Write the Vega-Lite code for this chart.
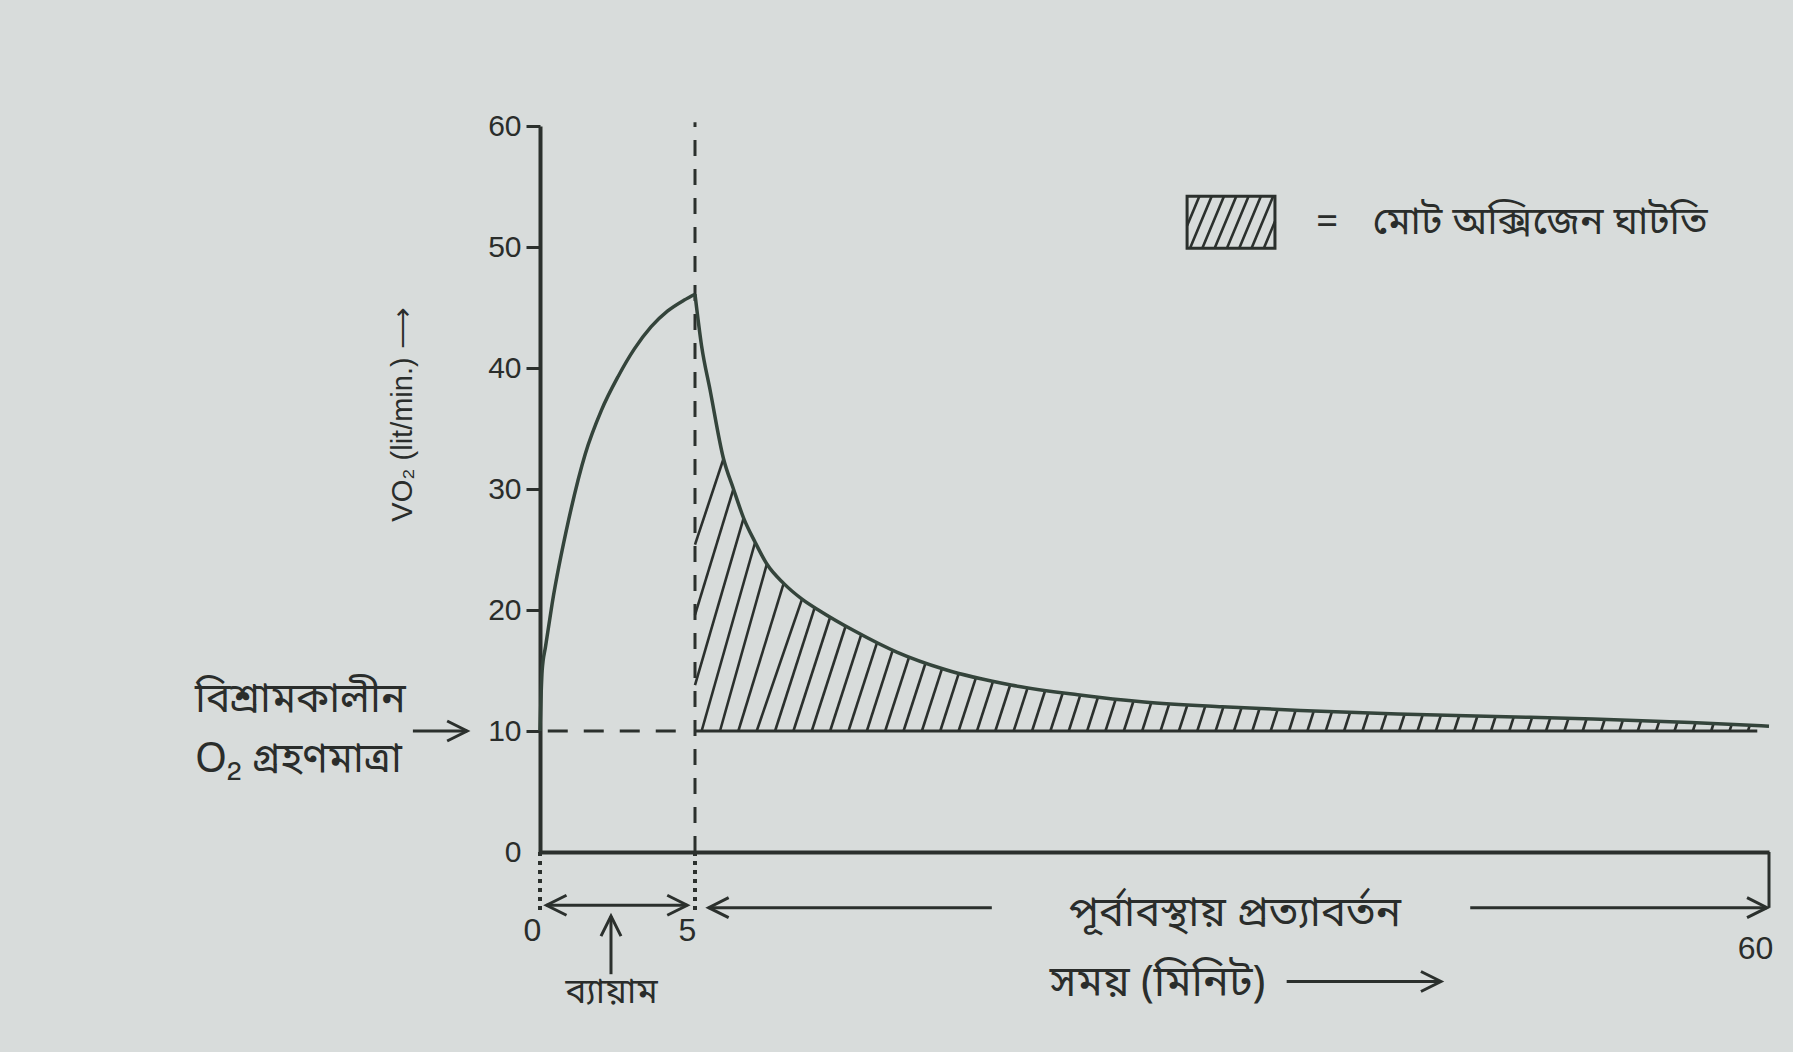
{
  "$schema": "https://vega.github.io/schema/vega-lite/v6.json",
  "width": 1229,
  "height": 726,
  "autosize": "none",
  "padding": {"left": 540, "top": 126, "right": 24, "bottom": 200},
  "background": "#d8dcdb",
  "config": {"view": {"stroke": null}, "font": "Liberation Sans"},
  "datasets": {
    "curve": [
      {"seg": "rise", "t": 0, "v": 10},
      {"seg": "rise", "t": 0.07, "v": 15.0},
      {"seg": "rise", "t": 0.18, "v": 17.0},
      {"seg": "rise", "t": 0.39, "v": 20.5},
      {"seg": "rise", "t": 0.92, "v": 27.4},
      {"seg": "rise", "t": 1.46, "v": 32.9},
      {"seg": "rise", "t": 1.98, "v": 36.5},
      {"seg": "rise", "t": 2.52, "v": 39.3},
      {"seg": "rise", "t": 3.05, "v": 41.6},
      {"seg": "rise", "t": 3.58, "v": 43.4},
      {"seg": "rise", "t": 4.11, "v": 44.7},
      {"seg": "rise", "t": 4.64, "v": 45.6},
      {"seg": "rise", "t": 5, "v": 46.1},
      {"seg": "decay", "t": 5, "v": 46.1},
      {"seg": "decay", "t": 5.34, "v": 41.8},
      {"seg": "decay", "t": 5.77, "v": 38.2},
      {"seg": "decay", "t": 6.46, "v": 32.5},
      {"seg": "decay", "t": 6.97, "v": 30.0},
      {"seg": "decay", "t": 7.49, "v": 27.6},
      {"seg": "decay", "t": 8.08, "v": 25.6},
      {"seg": "decay", "t": 8.68, "v": 23.8},
      {"seg": "decay", "t": 9.54, "v": 22.2},
      {"seg": "decay", "t": 10.48, "v": 20.9},
      {"seg": "decay", "t": 11.42, "v": 19.9},
      {"seg": "decay", "t": 13.13, "v": 18.3},
      {"seg": "decay", "t": 15.36, "v": 16.5},
      {"seg": "decay", "t": 17.76, "v": 15.1},
      {"seg": "decay", "t": 21.18, "v": 13.8},
      {"seg": "decay", "t": 24.6, "v": 13.0},
      {"seg": "decay", "t": 28.0, "v": 12.4},
      {"seg": "decay", "t": 32.0, "v": 12.0},
      {"seg": "decay", "t": 36.0, "v": 11.7},
      {"seg": "decay", "t": 41.0, "v": 11.4},
      {"seg": "decay", "t": 46.0, "v": 11.2},
      {"seg": "decay", "t": 51.0, "v": 11.0},
      {"seg": "decay", "t": 56.0, "v": 10.7},
      {"seg": "decay", "t": 60.0, "v": 10.4}
    ],
    "hatch": [
      {"t": 5, "v": 25.4, "t2": 6.46, "v2": 32.5},
      {"t": 5, "v": 19.6, "t2": 6.97, "v2": 30.0},
      {"t": 5, "v": 13.8, "t2": 7.49, "v2": 27.6},
      {"t": 5.34, "v": 10, "t2": 8.08, "v2": 25.6},
      {"t": 6.28, "v": 10, "t2": 8.68, "v2": 23.8},
      {"t": 7.22, "v": 10, "t2": 9.54, "v2": 22.2},
      {"t": 8.16, "v": 10, "t2": 10.48, "v2": 20.9},
      {"t": 9.10, "v": 10, "t2": 11.13, "v2": 20.2},
      {"t": 10.04, "v": 10, "t2": 11.92, "v2": 19.4},
      {"t": 10.98, "v": 10, "t2": 12.72, "v2": 18.7},
      {"t": 11.92, "v": 10, "t2": 13.52, "v2": 18.0},
      {"t": 12.86, "v": 10, "t2": 14.33, "v2": 17.35},
      {"t": 13.80, "v": 10, "t2": 15.13, "v2": 16.7},
      {"t": 14.74, "v": 10, "t2": 15.97, "v2": 16.15},
      {"t": 15.68, "v": 10, "t2": 16.81, "v2": 15.64},
      {"t": 16.62, "v": 10, "t2": 17.65, "v2": 15.15},
      {"t": 17.56, "v": 10, "t2": 18.52, "v2": 14.82},
      {"t": 18.50, "v": 10, "t2": 19.40, "v2": 14.48},
      {"t": 19.44, "v": 10, "t2": 20.27, "v2": 14.15},
      {"t": 20.38, "v": 10, "t2": 21.14, "v2": 13.8},
      {"t": 21.32, "v": 10, "t2": 22.04, "v2": 13.6},
      {"t": 22.26, "v": 10, "t2": 22.94, "v2": 13.39},
      {"t": 23.20, "v": 10, "t2": 23.84, "v2": 13.18},
      {"t": 24.14, "v": 10, "t2": 24.73, "v2": 12.97},
      {"t": 25.08, "v": 10, "t2": 25.64, "v2": 12.81},
      {"t": 26.02, "v": 10, "t2": 26.55, "v2": 12.65},
      {"t": 26.96, "v": 10, "t2": 27.46, "v2": 12.5},
      {"t": 27.90, "v": 10, "t2": 28.37, "v2": 12.36},
      {"t": 28.84, "v": 10, "t2": 29.29, "v2": 12.27},
      {"t": 29.78, "v": 10, "t2": 30.22, "v2": 12.18},
      {"t": 30.72, "v": 10, "t2": 31.14, "v2": 12.09},
      {"t": 31.66, "v": 10, "t2": 32.06, "v2": 11.99},
      {"t": 32.60, "v": 10, "t2": 32.99, "v2": 11.93},
      {"t": 33.54, "v": 10, "t2": 33.91, "v2": 11.86},
      {"t": 34.48, "v": 10, "t2": 34.84, "v2": 11.79},
      {"t": 35.42, "v": 10, "t2": 35.76, "v2": 11.72},
      {"t": 36.36, "v": 10, "t2": 36.69, "v2": 11.66},
      {"t": 37.30, "v": 10, "t2": 37.62, "v2": 11.6},
      {"t": 38.24, "v": 10, "t2": 38.55, "v2": 11.55},
      {"t": 39.18, "v": 10, "t2": 39.48, "v2": 11.49},
      {"t": 40.12, "v": 10, "t2": 40.41, "v2": 11.43},
      {"t": 41.06, "v": 10, "t2": 41.34, "v2": 11.39},
      {"t": 42.00, "v": 10, "t2": 42.27, "v2": 11.35},
      {"t": 42.94, "v": 10, "t2": 43.20, "v2": 11.31},
      {"t": 43.88, "v": 10, "t2": 44.14, "v2": 11.28},
      {"t": 44.82, "v": 10, "t2": 45.07, "v2": 11.24},
      {"t": 45.76, "v": 10, "t2": 46.00, "v2": 11.2},
      {"t": 46.70, "v": 10, "t2": 46.93, "v2": 11.17},
      {"t": 47.64, "v": 10, "t2": 47.87, "v2": 11.13},
      {"t": 48.58, "v": 10, "t2": 48.80, "v2": 11.09},
      {"t": 49.52, "v": 10, "t2": 49.73, "v2": 11.05},
      {"t": 50.46, "v": 10, "t2": 50.66, "v2": 11.02},
      {"t": 51.40, "v": 10, "t2": 51.59, "v2": 10.97},
      {"t": 52.34, "v": 10, "t2": 52.52, "v2": 10.91},
      {"t": 53.28, "v": 10, "t2": 53.45, "v2": 10.85},
      {"t": 54.22, "v": 10, "t2": 54.38, "v2": 10.8},
      {"t": 55.16, "v": 10, "t2": 55.31, "v2": 10.74},
      {"t": 56.10, "v": 10, "t2": 56.24, "v2": 10.69},
      {"t": 57.04, "v": 10, "t2": 57.16, "v2": 10.62},
      {"t": 57.98, "v": 10, "t2": 58.09, "v2": 10.55},
      {"t": 58.92, "v": 10, "t2": 59.02, "v2": 10.48},
      {"t": 30.2, "v": 51.76, "t2": 30.83, "v2": 54.2},
      {"t": 30.35, "v": 49.9, "t2": 31.46, "v2": 54.2},
      {"t": 30.98, "v": 49.9, "t2": 32.09, "v2": 54.2},
      {"t": 31.61, "v": 49.9, "t2": 32.72, "v2": 54.2},
      {"t": 32.24, "v": 49.9, "t2": 33.35, "v2": 54.2},
      {"t": 32.87, "v": 49.9, "t2": 33.98, "v2": 54.2},
      {"t": 33.50, "v": 49.9, "t2": 34.61, "v2": 54.2},
      {"t": 34.13, "v": 49.9, "t2": 34.7, "v2": 52.11}
    ],
    "guides": [
      {"kind": "dashH", "t": 0.25, "v": 10, "t2": 4.85, "v2": 10},
      {"kind": "solid", "t": 5, "v": 10, "t2": 59.4, "v2": 10},
      {"kind": "dashV", "t": 5, "v": 0, "t2": 5, "v2": 60.3},
      {"kind": "dot", "t": 0, "v": 0, "t2": 0, "v2": -4.9},
      {"kind": "dot", "t": 5, "v": 0, "t2": 5, "v2": -4.9},
      {"kind": "solid", "t": 60, "v": 0, "t2": 60, "v2": -4.6},
      {"kind": "solid", "t": 0.21, "v": -4.4, "t2": 4.75, "v2": -4.4},
      {"kind": "solid", "t": 5.7, "v": -4.6, "t2": 20.2, "v2": -4.6},
      {"kind": "solid", "t": 44.7, "v": -4.6, "t2": 59.9, "v2": -4.6},
      {"kind": "solid", "t": 2.29, "v": -5.3, "t2": 2.29, "v2": -10.1},
      {"kind": "solid", "t": 35.3, "v": -10.7, "t2": 43.2, "v2": -10.7},
      {"kind": "solid", "t": -4.1, "v": 10, "t2": -2.35, "v2": 10}
    ],
    "heads": [
      {"dir": "L", "t": 0.21, "v": -4.4},
      {"dir": "R", "t": 4.75, "v": -4.4},
      {"dir": "L", "t": 5.7, "v": -4.6},
      {"dir": "R", "t": 59.9, "v": -4.6},
      {"dir": "U", "t": 2.29, "v": -5.3},
      {"dir": "R", "t": 43.2, "v": -10.7},
      {"dir": "R", "t": -2.35, "v": 10}
    ],
    "box": [
      {"t": 30.2, "t2": 34.7, "v": 49.9, "v2": 54.2}
    ],
    "texts": [
      {"role": "left", "label": "বিশ্রামকালীন", "t": -11.13, "v": 12.6},
      {"role": "left", "label": "O₂ গ্রহণমাত্রা", "t": -11.13, "v": 7.6},
      {"role": "legend", "label": "=", "t": 36.8, "v": 52.1},
      {"role": "legend", "label": "মোট অক্সিজেন ঘাটতি", "t": 39.7, "v": 52.1},
      {"role": "center", "label": "পূর্বাবস্থায় প্রত্যাবর্তন", "t": 32.65, "v": -5.0},
      {"role": "small", "label": "ব্যায়াম", "t": 2.31, "v": -11.6}
    ]
  },
  "encoding": {
    "x": {
      "field": "t",
      "type": "quantitative",
      "scale": {"type": "linear", "domain": [0, 5, 60], "range": [0, 155, 1229], "nice": false, "zero": false},
      "axis": {
        "values": [0, 5, 60],
        "title": "সময় (মিনিট)",
        "titleX": 617,
        "titleY": 130,
        "titleBaseline": "middle",
        "titleAlign": "center",
        "titleFontSize": 43,
        "titleFontWeight": "normal",
        "titleFont": "Noto Sans Bengali, Noto Serif Bengali, Lohit Bengali, FreeSans, sans-serif",
        "titleColor": "#2a2d2b",
        "ticks": false,
        "tickSize": 0,
        "labelPadding": {"condition": {"test": "datum.value === 60", "value": 96}, "value": 78},
        "labelOffset": {"condition": {"test": "datum.value === 60", "value": -14}, "value": -8},
        "labelBaseline": "middle",
        "labelFontSize": 32,
        "labelColor": "#2a2d2b",
        "labelFlush": false,
        "labelOverlap": false,
        "domainWidth": 4,
        "domainColor": "#2b302d",
        "grid": false
      }
    },
    "y": {
      "field": "v",
      "type": "quantitative",
      "scale": {"domain": [0, 60], "nice": false, "zero": false},
      "axis": {
        "values": [0, 10, 20, 30, 40, 50, 60],
        "title": "VO₂ (lit/min.) ⟶",
        "titleX": -138,
        "titleY": 288,
        "titleAngle": 270,
        "titleBaseline": "middle",
        "titleAlign": "center",
        "titleFontSize": 29,
        "titleFontWeight": "normal",
        "titleColor": "#2a2d2b",
        "tickSize": 14,
        "tickWidth": 3,
        "tickColor": {"condition": {"test": "datum.value === 0", "value": "transparent"}, "value": "#2b302d"},
        "labelPadding": 5,
        "labelFontSize": 30,
        "labelColor": "#2a2d2b",
        "labelFlush": false,
        "labelOverlap": false,
        "domainWidth": 4,
        "domainColor": "#2b302d",
        "grid": false
      }
    }
  },
  "layer": [
    {
      "data": {"name": "guides"},
      "transform": [{"filter": "datum.kind === 'dashH'"}],
      "mark": {"type": "rule", "stroke": "#2b302d", "strokeWidth": 3, "strokeDash": [20, 16]},
      "encoding": {"x2": {"field": "t2"}, "y2": {"field": "v2"}}
    },
    {
      "data": {"name": "guides"},
      "transform": [{"filter": "datum.kind === 'dashV'"}],
      "mark": {"type": "rule", "stroke": "#2b302d", "strokeWidth": 3, "strokeDash": [16, 13]},
      "encoding": {"x2": {"field": "t2"}, "y2": {"field": "v2"}}
    },
    {
      "data": {"name": "guides"},
      "transform": [{"filter": "datum.kind === 'dot'"}],
      "mark": {"type": "rule", "stroke": "#2b302d", "strokeWidth": 4, "strokeDash": [4, 5]},
      "encoding": {"x2": {"field": "t2"}, "y2": {"field": "v2"}}
    },
    {
      "data": {"name": "guides"},
      "transform": [{"filter": "datum.kind === 'solid'"}],
      "mark": {"type": "rule", "stroke": "#2b302d", "strokeWidth": 3},
      "encoding": {"x2": {"field": "t2"}, "y2": {"field": "v2"}}
    },
    {
      "data": {"name": "hatch"},
      "mark": {"type": "rule", "stroke": "#2b302d", "strokeWidth": 2.6},
      "encoding": {"x2": {"field": "t2"}, "y2": {"field": "v2"}}
    },
    {
      "data": {"name": "box"},
      "mark": {"type": "rect", "filled": false, "stroke": "#2b302d", "strokeWidth": 3},
      "encoding": {"x2": {"field": "t2"}, "y2": {"field": "v2"}}
    },
    {
      "data": {"name": "curve"},
      "mark": {"type": "line", "stroke": "#34443b", "strokeWidth": 3.5, "interpolate": "monotone"},
      "encoding": {"detail": {"field": "seg"}}
    },
    {
      "data": {"name": "heads"},
      "mark": {"type": "point", "filled": false, "stroke": "#2b302d", "strokeWidth": 3, "size": 1600, "opacity": 1},
      "encoding": {
        "shape": {
          "field": "dir",
          "type": "nominal",
          "scale": {"domain": ["L", "R", "U"], "range": ["M1,-0.5L0,0L1,0.5", "M-1,-0.5L0,0L-1,0.5", "M-0.5,1L0,0L0.5,1"]},
          "legend": null
        }
      }
    },
    {
      "data": {"name": "texts"},
      "transform": [{"filter": "datum.role === 'left'"}],
      "mark": {"type": "text", "align": "left", "baseline": "middle", "fontSize": 41, "font": "Noto Sans Bengali, Noto Serif Bengali, Lohit Bengali, FreeSans, sans-serif", "color": "#2a2d2b"},
      "encoding": {"text": {"field": "label"}}
    },
    {
      "data": {"name": "texts"},
      "transform": [{"filter": "datum.role === 'legend'"}],
      "mark": {"type": "text", "align": "left", "baseline": "middle", "fontSize": 39, "font": "Noto Sans Bengali, Noto Serif Bengali, Lohit Bengali, FreeSans, sans-serif", "color": "#2a2d2b"},
      "encoding": {"text": {"field": "label"}}
    },
    {
      "data": {"name": "texts"},
      "transform": [{"filter": "datum.role === 'center'"}],
      "mark": {"type": "text", "align": "center", "baseline": "middle", "fontSize": 42, "font": "Noto Sans Bengali, Noto Serif Bengali, Lohit Bengali, FreeSans, sans-serif", "color": "#2a2d2b"},
      "encoding": {"text": {"field": "label"}}
    },
    {
      "data": {"name": "texts"},
      "transform": [{"filter": "datum.role === 'small'"}],
      "mark": {"type": "text", "align": "center", "baseline": "middle", "fontSize": 35, "font": "Noto Sans Bengali, Noto Serif Bengali, Lohit Bengali, FreeSans, sans-serif", "color": "#2a2d2b"},
      "encoding": {"text": {"field": "label"}}
    }
  ]
}
